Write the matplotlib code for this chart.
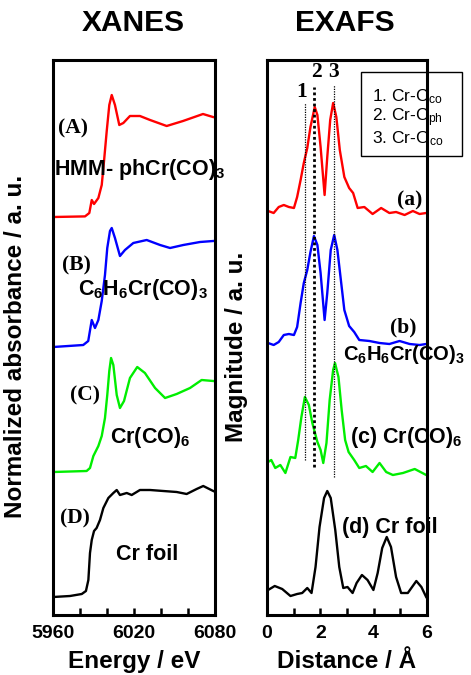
import matplotlib
matplotlib.use("Agg")
import matplotlib.pyplot as plt
import matplotlib.patches as patches
import numpy as np

plt.rcParams['font.family'] = ['Liberation Sans', 'DejaVu Sans']
plt.rcParams['font.weight'] = 'bold'
plt.rcParams['mathtext.fontset'] = 'custom'
plt.rcParams['mathtext.rm'] = 'Liberation Sans:bold'
plt.rcParams['mathtext.it'] = 'Liberation Sans:bold'
plt.rcParams['mathtext.bf'] = 'Liberation Sans:bold'
plt.rcParams['mathtext.sf'] = 'Liberation Sans:normal'

# XANES (normalized absorbance)
E_a = [5960.2, 5983.7, 5986.9, 5988.7, 5990.4, 5993.6, 5996.1, 5997.8, 5999.8, 6001.7, 6003.5,
       6005.9, 6009.1, 6012.1, 6017.0, 6024.4, 6031.9, 6044.2, 6056.3, 6071.1, 6078.5]
mu_a = [0, 0.006, 0.04, 0.17, 0.13, 0.19, 0.32, 0.56, 0.86, 1.12, 1.22,
        1.12, 0.92, 0.94, 1.01, 1.01, 0.97, 0.91, 0.96, 1.03, 1.00]

E_b = [5960.2, 5982.4, 5986.1, 5988.7, 5991.1, 5993.6, 5996.1, 5998.5, 6000.2, 6002.2, 6003.5,
       6005.9, 6009.6, 6013.3, 6019.5, 6029.4, 6039.3, 6046.7, 6056.5, 6068.9, 6078.7]
mu_b = [0, 0.02, 0.06, 0.27, 0.19, 0.27, 0.46, 0.72, 0.99, 1.16, 1.19,
        1.09, 0.91, 0.97, 1.04, 1.07, 1.02, 0.99, 1.02, 1.05, 1.06]

E_c = [5960.2, 5984.9, 5987.4, 5989.9, 5993.6, 5996.1, 5998.5, 6000.2, 6001.7, 6003.0, 6004.7, 6007.2,
       6009.6, 6012.6, 6017.0, 6022.4, 6028.1, 6035.6, 6043.0, 6051.6, 6061.5, 6070.1, 6078.7]
mu_c = [0, 0.01, 0.04, 0.16, 0.26, 0.36, 0.54, 0.77, 1.01, 1.14, 1.07, 0.77,
        0.64, 0.71, 0.94, 1.05, 0.99, 0.84, 0.74, 0.78, 0.84, 0.92, 0.91]

E_d = [5960.2, 5972.6, 5981.3, 5984.4, 5986.2, 5987.4, 5988.7, 5990.4, 5992.3, 5994.8, 5997.3, 6001.0, 6004.7,
       6007.2, 6009.6, 6014.6, 6018.3, 6024.4, 6031.9, 6041.7, 6051.6, 6059.0, 6066.4, 6071.3, 6078.7]
mu_d = [0, 0.01, 0.03, 0.06, 0.17, 0.44, 0.57, 0.66, 0.69, 0.77, 0.89, 0.99, 1.04,
        1.07, 1.02, 1.04, 1.02, 1.07, 1.07, 1.06, 1.05, 1.03, 1.08, 1.11, 1.06]

xanes_offsets = [3.98, 2.68, 1.43, 0.18]

# EXAFS (FT magnitude)
R_a = [0.04, 0.25, 0.44, 0.63, 0.82, 1.01, 1.13, 1.26, 1.38, 1.51, 1.63, 1.79, 1.89, 2.01, 2.16, 2.26, 2.37,
       2.48, 2.60, 2.73, 2.90, 3.08, 3.23, 3.40, 3.65, 3.96, 4.28, 4.59, 4.84, 5.16, 5.47, 5.72, 5.97]
ft_a = [0.04, 0.02, 0.08, 0.10, 0.08, 0.07, 0.18, 0.35, 0.52, 0.67, 0.88, 1.08, 1.00, 0.68, 0.20, 0.58, 0.95,
        1.12, 0.98, 0.65, 0.38, 0.27, 0.22, 0.07, 0.08, 0.01, 0.07, 0.02, 0.03, 0.00, 0.04, 0.01, 0.02]

R_b = [0.04, 0.25, 0.44, 0.63, 0.82, 1.01, 1.13, 1.26, 1.38, 1.51, 1.63, 1.76, 1.89, 2.01, 2.16, 2.26,
       2.39, 2.52, 2.64, 2.77, 2.90, 3.08, 3.27, 3.46, 3.84, 4.22, 4.59, 4.97, 5.35, 5.72, 5.97]
ft_b = [0.02, 0.00, 0.03, 0.10, 0.11, 0.10, 0.18, 0.42, 0.62, 0.75, 0.93, 1.09, 1.00, 0.72, 0.25, 0.52,
        0.95, 1.10, 0.95, 0.65, 0.35, 0.19, 0.13, 0.05, 0.04, 0.02, 0.01, 0.04, 0.01, 0.00, 0.01]

R_c = [0.04, 0.16, 0.31, 0.50, 0.69, 0.88, 1.06, 1.17, 1.29, 1.42, 1.57, 1.70, 1.89, 2.01, 2.11, 2.23, 2.35,
       2.48, 2.55, 2.68, 2.80, 2.93, 3.06, 3.27, 3.46, 3.71, 3.96, 4.22, 4.47, 4.72, 5.10, 5.54, 5.97]
ft_c = [0.08, 0.10, 0.02, 0.05, -0.03, 0.13, 0.12, 0.30, 0.53, 0.73, 0.65, 0.47, 0.28, 0.20, 0.07, 0.27, 0.70,
        1.00, 1.07, 0.93, 0.60, 0.30, 0.18, 0.10, 0.02, 0.04, -0.02, 0.07, -0.02, -0.05, -0.03, 0.01, -0.05]

R_d = [0.04, 0.29, 0.57, 0.88, 1.13, 1.32, 1.51, 1.67, 1.82, 1.97, 2.14, 2.26, 2.39, 2.56, 2.71, 2.86,
       3.02, 3.21, 3.36, 3.56, 3.77, 3.99, 4.15, 4.32, 4.49, 4.65, 4.84, 5.03, 5.28, 5.60, 5.79, 5.97]
ft_d = [0.05, 0.09, 0.06, -0.01, 0.01, 0.02, 0.07, 0.02, 0.28, 0.68, 0.97, 1.04, 0.97, 0.65, 0.28, 0.07,
        0.08, 0.02, 0.12, 0.20, 0.15, 0.05, 0.22, 0.47, 0.58, 0.48, 0.18, 0.02, 0.02, 0.14, 0.08, -0.02]

exafs_offsets = [4.00, 2.70, 1.45, 0.20]

colors = ['#ff0000', '#0000ff', '#00ee00', '#000000']

# bond distances marked by dotted lines
shell_R = [1.42, 1.76, 2.52]
shell_names = ['1', '2', '3']
legend_lines = [r'1. Cr-C$_{\mathsf{co}}$', r'2. Cr-C$_{\mathsf{ph}}$', r'3. Cr-O$_{\mathsf{co}}$']

fig = plt.figure(figsize=(4.71, 6.75), dpi=100)
axX = fig.add_axes([53 / 471, 60 / 675, 162 / 471, 555 / 675])
axE = fig.add_axes([267 / 471, 60 / 675, 160 / 471, 555 / 675])

xanes = [(E_a, mu_a), (E_b, mu_b), (E_c, mu_c), (E_d, mu_d)]
for (e, m), off, c in zip(xanes, xanes_offsets, colors):
    axX.plot(e, np.array(m) + off, color=c, lw=1.7)

exafs = [(R_a, ft_a), (R_b, ft_b), (R_c, ft_c), (R_d, ft_d)]
for (r, f), off, c in zip(exafs, exafs_offsets, colors):
    axE.plot(r, np.array(f) + off, color=c, lw=1.7)

for ax in (axX, axE):
    ax.set_ylim(0, 5.55)
    ax.set_yticks([])
    for s in ax.spines.values():
        s.set_linewidth(2.2)
    ax.tick_params(axis='x', which='both', direction='in', length=5, width=1.8,
                   labelsize=14, pad=7, top=False)

axX.set_xlim(5960, 6080)
axX.set_xticks([5960, 6020, 6080])
axX.set_xticks([5980, 6000, 6040, 6060], minor=True)
axE.set_xlim(0, 6)
axE.set_xticks([0, 2, 4, 6])
axE.set_xticks([1, 3, 5], minor=True)

axX.set_xlabel('Energy / eV', fontsize=17.5, fontweight='bold', labelpad=6)
axE.set_xlabel('Distance / \u00c5', fontsize=17.5, fontweight='bold', labelpad=6)
axX.set_ylabel('Normalized absorbance / a. u.', fontsize=17.5, fontweight='bold')
axE.set_ylabel('Magnitude / a. u.', fontsize=17.5, fontweight='bold')
axX.yaxis.set_label_coords(-0.16, 0.483)
axE.yaxis.set_label_coords(-0.12, 0.483)

fig.text(133 / 471, 1 - 23 / 675, 'XANES', fontsize=21.5, fontweight='bold', ha='center', va='center')
fig.text(345 / 471, 1 - 23 / 675, 'EXAFS', fontsize=21.5, fontweight='bold', ha='center', va='center')

serif = dict(family='Liberation Serif', fontweight='bold', fontsize=15.5, va='center')
sans = dict(fontweight='bold', fontsize=15.5, va='center')

axX.text(5963.5, 4.87, '(A)', **serif)
axX.text(5960.7, 4.45, r'HMM- phCr(CO)$_3$', **sans)
axX.text(5966.7, 3.50, '(B)', **serif)
axX.text(5978.5, 3.25, r'C$_6$H$_6$Cr(CO)$_3$', **sans)
axX.text(5972.6, 2.20, '(C)', **serif)
axX.text(6002.2, 1.78, r'Cr(CO)$_6$', **sans)
axX.text(5965.2, 0.97, '(D)', **serif)
axX.text(6006.7, 0.61, 'Cr foil', **sans)

axE.text(4.88, 4.15, '(a)', **serif)
axE.text(4.61, 2.88, '(b)', **serif)
axE.text(2.86, 2.60, r'C$_6$H$_6$Cr(CO)$_3$', fontweight='bold', fontsize=14.5, va='center')
axE.text(3.11, 1.78, r'(c) Cr(CO)$_6$', **sans)
axE.text(2.81, 0.88, '(d) Cr foil', **sans)

# dotted guide lines
axE.plot([shell_R[0]] * 2, [1.55, 5.12], color='k', lw=0.9, ls=(0, (1, 1)))
axE.plot([shell_R[1]] * 2, [1.48, 5.28], color='k', lw=2.0, ls=(0, (1, 1)))
axE.plot([shell_R[2]] * 2, [1.38, 5.30], color='k', lw=0.9, ls=(0, (1, 1)))
for r, name, y in zip([1.28, 1.84, 2.48], shell_names, [5.23, 5.43, 5.43]):
    axE.text(r, y, name, ha='center', **serif)

# box listing the shells
fig.patches.append(patches.Rectangle((360.7 / 471, 1 - 155.7 / 675), 101 / 471, 84 / 675,
                                     transform=fig.transFigure, fill=False, lw=1.0, ec='k'))
for i, t in enumerate(legend_lines):
    fig.text(372 / 471, 1 - (97 + 20.8 * i) / 675, t, fontsize=12.5, fontweight='normal', va='center')

fig.savefig('out.png', dpi=100)
